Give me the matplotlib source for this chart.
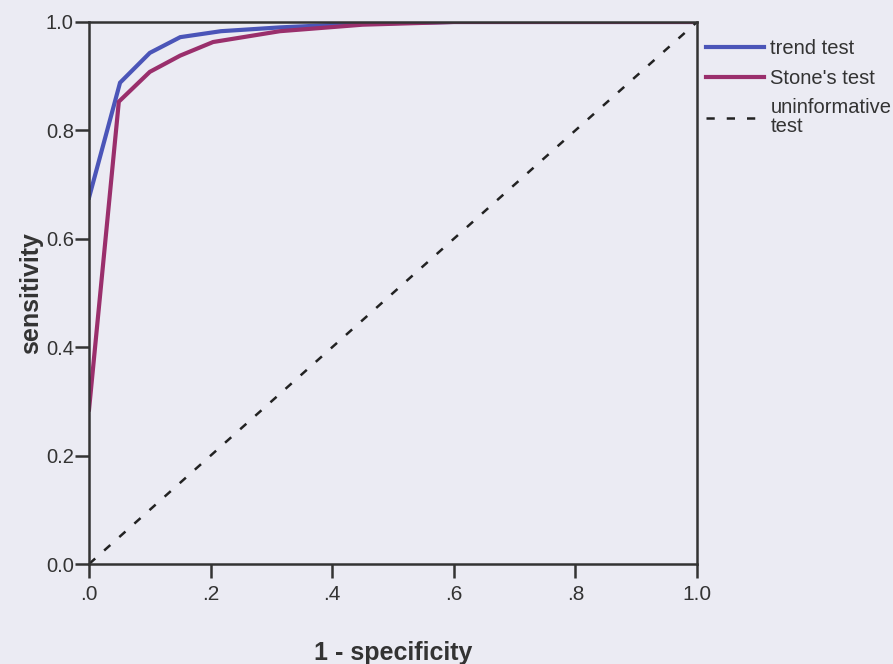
import matplotlib
matplotlib.use('Agg')
import matplotlib.pyplot as plt

plt.rcParams['font.family'] = ['Liberation Sans', 'DejaVu Sans']

# ROC curves: 1 - specificity vs sensitivity
trend_fpr = [0.0, 0.051, 0.10, 0.15, 0.217, 0.314, 0.45, 0.60, 1.0]
trend_tpr = [0.676, 0.888, 0.943, 0.972, 0.983, 0.990, 0.997, 1.0, 1.0]

stone_fpr = [0.0, 0.049, 0.10, 0.15, 0.204, 0.314, 0.45, 0.60, 1.0]
stone_tpr = [0.285, 0.853, 0.908, 0.938, 0.963, 0.983, 0.995, 1.0, 1.0]

diag = [0.0, 1.0]

xticks = [0.0, 0.2, 0.4, 0.6, 0.8, 1.0]
xtick_labels = ['.0', '.2', '.4', '.6', '.8', '1.0']
yticks = [0.0, 0.2, 0.4, 0.6, 0.8, 1.0]
ytick_labels = ['0.0', '0.2', '0.4', '0.6', '0.8', '1.0']

bg = '#ebebf3'
fig = plt.figure(figsize=(8.93, 6.64), dpi=100, facecolor=bg)
ax = fig.add_axes([0.0997, 0.1506, 0.6808, 0.8163], facecolor=bg)

ax.plot(trend_fpr, trend_tpr, color='#4b55b8', lw=3.0, label='trend test', solid_joinstyle='miter')
ax.plot(stone_fpr, stone_tpr, color='#9a2f6c', lw=3.0, label="Stone's test", solid_joinstyle='miter')
dl, = ax.plot(diag, diag, color='#222222', lw=1.8, label='uninformative\ntest')
dl.set_dashes([3.3, 4.8])

ax.set_xlim(0, 1)
ax.set_ylim(0, 1)
ax.set_xticks(xticks)
ax.set_xticklabels(xtick_labels)
ax.set_yticks(yticks)
ax.set_yticklabels(ytick_labels)
ax.tick_params(direction='out', length=10, width=1.8, color='#333333',
               labelcolor='#333333')
ax.tick_params(axis='x', labelsize=15, pad=5)
ax.tick_params(axis='y', labelsize=14.5, pad=1)

for s in ax.spines.values():
    s.set_linewidth(1.8)
    s.set_color('#333333')

ax.set_xlabel('1 - specificity', fontsize=18, fontweight='bold', color='#333333', labelpad=27)
ax.set_ylabel('sensitivity', fontsize=18, fontweight='bold', color='#333333', labelpad=2)

leg = ax.legend(loc='upper left', bbox_to_anchor=(0.995, 0.99), frameon=False, fontsize=14.5,
                handlelength=2.9, handletextpad=0.3, labelspacing=0.52, borderaxespad=0.2,
                labelcolor='#333333')
for t in leg.get_texts():
    t.set_linespacing(1.0)

fig.savefig('out.png', dpi=100, facecolor=bg)
